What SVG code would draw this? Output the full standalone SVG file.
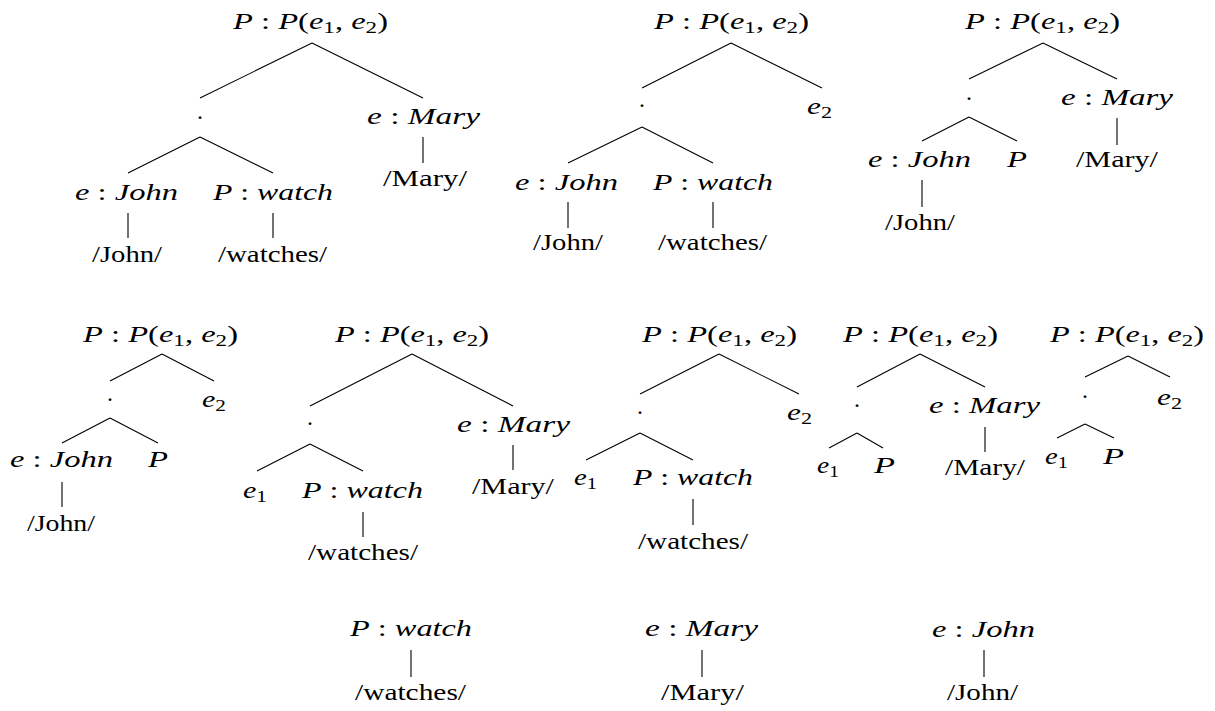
<svg xmlns="http://www.w3.org/2000/svg" width="1215" height="711" viewBox="0 0 1215 711">
<style>
text { font-family: "Liberation Serif", "Times New Roman", serif; fill: #000; }
.m { font-size: 24px; }
.i { font-style: italic; }
.s { font-size: 17px; font-style: normal; }
.w { font-size: 23.5px; }
.d { font-size: 24px; text-anchor: middle; }
#connectors path { stroke: #000; stroke-width: 1.1; fill: none; }
</style>
<rect width="1215" height="711" fill="#fff"/>
<g id="connectors">
<path d="M312 43 L200 98 M312 43 L423 98 M200 137 L128 173 M200 137 L273 173 M423 137 V163 M128 213 V238 M273 213 V238"/>
<path d="M731 43 L642 88 M731 43 L822 88 M642 127 L568 163 M642 127 L713 163 M568 202 V228 M713 202 V228"/>
<path d="M1043 43 L969 79 M1043 43 L1117 79 M969 117 L922 141 M969 117 L1017 141 M1117 118 V145 M922 180 V207"/>
<path d="M162 354 L110 381 M162 354 L214 381 M110 418 L62 443 M110 418 L158 443 M62 482 V507"/>
<path d="M412 354 L310 406 M412 354 L513 406 M310 444 L257 471 M310 444 L363 471 M513 445 V470 M363 512 V537"/>
<path d="M719 354 L640 394 M719 354 L799 394 M640 433 L586 460 M640 433 L693 460 M693 499 V525"/>
<path d="M920 354 L857 387 M920 354 L985 387 M857 433 L829 448 M857 433 L883 448 M985 427 V452"/>
<path d="M1128 356 L1085 377 M1128 356 L1170 377 M1085 424 L1057 438 M1085 424 L1114 438"/>
<path d="M411 650 V677 M702 650 V677 M984 650 V677"/>
</g>
<!-- Tree 1 -->
<g id="t1-root"><text class="m" x="233" y="29" textLength="155" lengthAdjust="spacingAndGlyphs"><tspan class="i">P</tspan> : <tspan class="i">P</tspan>(<tspan class="i">e</tspan><tspan class="s" dy="4">1</tspan><tspan dy="-4">, </tspan><tspan class="i">e</tspan><tspan class="s" dy="4">2</tspan><tspan dy="-4">)</tspan></text></g>
<g id="t1-node"><text class="d" x="200" y="118.5">.</text></g>
<g id="t1-mary"><text class="m" x="367" y="124" textLength="113" lengthAdjust="spacingAndGlyphs"><tspan class="i">e</tspan> : <tspan class="i">Mary</tspan></text></g>
<g id="t1-mary-w"><text class="w" x="383" y="186" textLength="84" lengthAdjust="spacingAndGlyphs">/Mary/</text></g>
<g id="t1-john"><text class="m" x="75" y="200" textLength="103" lengthAdjust="spacingAndGlyphs"><tspan class="i">e</tspan> : <tspan class="i">John</tspan></text></g>
<g id="t1-watch"><text class="m" x="213" y="200" textLength="120" lengthAdjust="spacingAndGlyphs"><tspan class="i">P</tspan> : <tspan class="i">watch</tspan></text></g>
<g id="t1-john-w"><text class="w" x="92" y="262" textLength="70" lengthAdjust="spacingAndGlyphs">/John/</text></g>
<g id="t1-watch-w"><text class="w" x="218" y="262" textLength="109" lengthAdjust="spacingAndGlyphs">/watches/</text></g>
<!-- Tree 2 -->
<g id="t2-root"><text class="m" x="654" y="29" textLength="155" lengthAdjust="spacingAndGlyphs"><tspan class="i">P</tspan> : <tspan class="i">P</tspan>(<tspan class="i">e</tspan><tspan class="s" dy="4">1</tspan><tspan dy="-4">, </tspan><tspan class="i">e</tspan><tspan class="s" dy="4">2</tspan><tspan dy="-4">)</tspan></text></g>
<g id="t2-node"><text class="d" x="642" y="106.5">.</text></g>
<g id="t2-e2"><text class="m" x="807" y="114" textLength="25" lengthAdjust="spacingAndGlyphs"><tspan class="i">e</tspan><tspan class="s" dy="4">2</tspan></text></g>
<g id="t2-john"><text class="m" x="515" y="190" textLength="103" lengthAdjust="spacingAndGlyphs"><tspan class="i">e</tspan> : <tspan class="i">John</tspan></text></g>
<g id="t2-watch"><text class="m" x="653" y="190" textLength="120" lengthAdjust="spacingAndGlyphs"><tspan class="i">P</tspan> : <tspan class="i">watch</tspan></text></g>
<g id="t2-john-w"><text class="w" x="533" y="250" textLength="70" lengthAdjust="spacingAndGlyphs">/John/</text></g>
<g id="t2-watch-w"><text class="w" x="658" y="250" textLength="109" lengthAdjust="spacingAndGlyphs">/watches/</text></g>
<!-- Tree 3 -->
<g id="t3-root"><text class="m" x="965" y="29" textLength="155" lengthAdjust="spacingAndGlyphs"><tspan class="i">P</tspan> : <tspan class="i">P</tspan>(<tspan class="i">e</tspan><tspan class="s" dy="4">1</tspan><tspan dy="-4">, </tspan><tspan class="i">e</tspan><tspan class="s" dy="4">2</tspan><tspan dy="-4">)</tspan></text></g>
<g id="t3-node"><text class="d" x="969" y="99.5">.</text></g>
<g id="t3-mary"><text class="m" x="1061" y="105" textLength="112" lengthAdjust="spacingAndGlyphs"><tspan class="i">e</tspan> : <tspan class="i">Mary</tspan></text></g>
<g id="t3-mary-w"><text class="w" x="1076" y="167" textLength="82" lengthAdjust="spacingAndGlyphs">/Mary/</text></g>
<g id="t3-john"><text class="m" x="868" y="167" textLength="103" lengthAdjust="spacingAndGlyphs"><tspan class="i">e</tspan> : <tspan class="i">John</tspan></text></g>
<g id="t3-p"><text class="m i" x="1007" y="167" textLength="20" lengthAdjust="spacingAndGlyphs">P</text></g>
<g id="t3-john-w"><text class="w" x="885" y="230" textLength="70" lengthAdjust="spacingAndGlyphs">/John/</text></g>
<!-- Tree 4 -->
<g id="t4-root"><text class="m" x="83" y="342" textLength="155" lengthAdjust="spacingAndGlyphs"><tspan class="i">P</tspan> : <tspan class="i">P</tspan>(<tspan class="i">e</tspan><tspan class="s" dy="4">1</tspan><tspan dy="-4">, </tspan><tspan class="i">e</tspan><tspan class="s" dy="4">2</tspan><tspan dy="-4">)</tspan></text></g>
<g id="t4-node"><text class="d" x="110" y="400.5">.</text></g>
<g id="t4-e2"><text class="m" x="202" y="407" textLength="24" lengthAdjust="spacingAndGlyphs"><tspan class="i">e</tspan><tspan class="s" dy="4">2</tspan></text></g>
<g id="t4-john"><text class="m" x="10" y="467" textLength="103" lengthAdjust="spacingAndGlyphs"><tspan class="i">e</tspan> : <tspan class="i">John</tspan></text></g>
<g id="t4-p"><text class="m i" x="148" y="467" textLength="20" lengthAdjust="spacingAndGlyphs">P</text></g>
<g id="t4-john-w"><text class="w" x="27" y="531" textLength="68" lengthAdjust="spacingAndGlyphs">/John/</text></g>
<!-- Tree 5 -->
<g id="t5-root"><text class="m" x="335" y="342" textLength="154" lengthAdjust="spacingAndGlyphs"><tspan class="i">P</tspan> : <tspan class="i">P</tspan>(<tspan class="i">e</tspan><tspan class="s" dy="4">1</tspan><tspan dy="-4">, </tspan><tspan class="i">e</tspan><tspan class="s" dy="4">2</tspan><tspan dy="-4">)</tspan></text></g>
<g id="t5-node"><text class="d" x="310" y="424.5">.</text></g>
<g id="t5-mary"><text class="m" x="457" y="432" textLength="113" lengthAdjust="spacingAndGlyphs"><tspan class="i">e</tspan> : <tspan class="i">Mary</tspan></text></g>
<g id="t5-mary-w"><text class="w" x="472" y="494" textLength="82" lengthAdjust="spacingAndGlyphs">/Mary/</text></g>
<g id="t5-e1"><text class="m" x="243" y="498" textLength="24" lengthAdjust="spacingAndGlyphs"><tspan class="i">e</tspan><tspan class="s" dy="4">1</tspan></text></g>
<g id="t5-watch"><text class="m" x="302" y="498" textLength="121" lengthAdjust="spacingAndGlyphs"><tspan class="i">P</tspan> : <tspan class="i">watch</tspan></text></g>
<g id="t5-watch-w"><text class="w" x="308" y="560" textLength="110" lengthAdjust="spacingAndGlyphs">/watches/</text></g>
<!-- Tree 6 -->
<g id="t6-root"><text class="m" x="642" y="342" textLength="155" lengthAdjust="spacingAndGlyphs"><tspan class="i">P</tspan> : <tspan class="i">P</tspan>(<tspan class="i">e</tspan><tspan class="s" dy="4">1</tspan><tspan dy="-4">, </tspan><tspan class="i">e</tspan><tspan class="s" dy="4">2</tspan><tspan dy="-4">)</tspan></text></g>
<g id="t6-node"><text class="d" x="640" y="413.5">.</text></g>
<g id="t6-e2"><text class="m" x="787" y="420" textLength="25" lengthAdjust="spacingAndGlyphs"><tspan class="i">e</tspan><tspan class="s" dy="4">2</tspan></text></g>
<g id="t6-e1"><text class="m" x="574" y="485" textLength="23" lengthAdjust="spacingAndGlyphs"><tspan class="i">e</tspan><tspan class="s" dy="4">1</tspan></text></g>
<g id="t6-watch"><text class="m" x="633" y="485" textLength="120" lengthAdjust="spacingAndGlyphs"><tspan class="i">P</tspan> : <tspan class="i">watch</tspan></text></g>
<g id="t6-watch-w"><text class="w" x="638" y="549" textLength="110" lengthAdjust="spacingAndGlyphs">/watches/</text></g>
<!-- Tree 7 -->
<g id="t7-root"><text class="m" x="843" y="342" textLength="155" lengthAdjust="spacingAndGlyphs"><tspan class="i">P</tspan> : <tspan class="i">P</tspan>(<tspan class="i">e</tspan><tspan class="s" dy="4">1</tspan><tspan dy="-4">, </tspan><tspan class="i">e</tspan><tspan class="s" dy="4">2</tspan><tspan dy="-4">)</tspan></text></g>
<g id="t7-node"><text class="d" x="857" y="406.5">.</text></g>
<g id="t7-mary"><text class="m" x="929" y="413" textLength="111" lengthAdjust="spacingAndGlyphs"><tspan class="i">e</tspan> : <tspan class="i">Mary</tspan></text></g>
<g id="t7-mary-w"><text class="w" x="945" y="475" textLength="80" lengthAdjust="spacingAndGlyphs">/Mary/</text></g>
<g id="t7-e1"><text class="m" x="817" y="473" textLength="22" lengthAdjust="spacingAndGlyphs"><tspan class="i">e</tspan><tspan class="s" dy="4">1</tspan></text></g>
<g id="t7-p"><text class="m i" x="874" y="473" textLength="21" lengthAdjust="spacingAndGlyphs">P</text></g>
<!-- Tree 8 -->
<g id="t8-root"><text class="m" x="1050" y="342" textLength="154" lengthAdjust="spacingAndGlyphs"><tspan class="i">P</tspan> : <tspan class="i">P</tspan>(<tspan class="i">e</tspan><tspan class="s" dy="4">1</tspan><tspan dy="-4">, </tspan><tspan class="i">e</tspan><tspan class="s" dy="4">2</tspan><tspan dy="-4">)</tspan></text></g>
<g id="t8-node"><text class="d" x="1085" y="397.5">.</text></g>
<g id="t8-e2"><text class="m" x="1157" y="405" textLength="25" lengthAdjust="spacingAndGlyphs"><tspan class="i">e</tspan><tspan class="s" dy="4">2</tspan></text></g>
<g id="t8-e1"><text class="m" x="1045" y="464" textLength="23" lengthAdjust="spacingAndGlyphs"><tspan class="i">e</tspan><tspan class="s" dy="4">1</tspan></text></g>
<g id="t8-p"><text class="m i" x="1103" y="464" textLength="21" lengthAdjust="spacingAndGlyphs">P</text></g>
<!-- Bottom row -->
<g id="b1-watch"><text class="m" x="350" y="636" textLength="122" lengthAdjust="spacingAndGlyphs"><tspan class="i">P</tspan> : <tspan class="i">watch</tspan></text></g>
<g id="b1-watch-w"><text class="w" x="355" y="700" textLength="111" lengthAdjust="spacingAndGlyphs">/watches/</text></g>
<g id="b2-mary"><text class="m" x="645" y="636" textLength="113" lengthAdjust="spacingAndGlyphs"><tspan class="i">e</tspan> : <tspan class="i">Mary</tspan></text></g>
<g id="b2-mary-w"><text class="w" x="661" y="700" textLength="83" lengthAdjust="spacingAndGlyphs">/Mary/</text></g>
<g id="b3-john"><text class="m" x="932" y="637" textLength="103" lengthAdjust="spacingAndGlyphs"><tspan class="i">e</tspan> : <tspan class="i">John</tspan></text></g>
<g id="b3-john-w"><text class="w" x="947" y="700" textLength="71" lengthAdjust="spacingAndGlyphs">/John/</text></g>
</svg>
